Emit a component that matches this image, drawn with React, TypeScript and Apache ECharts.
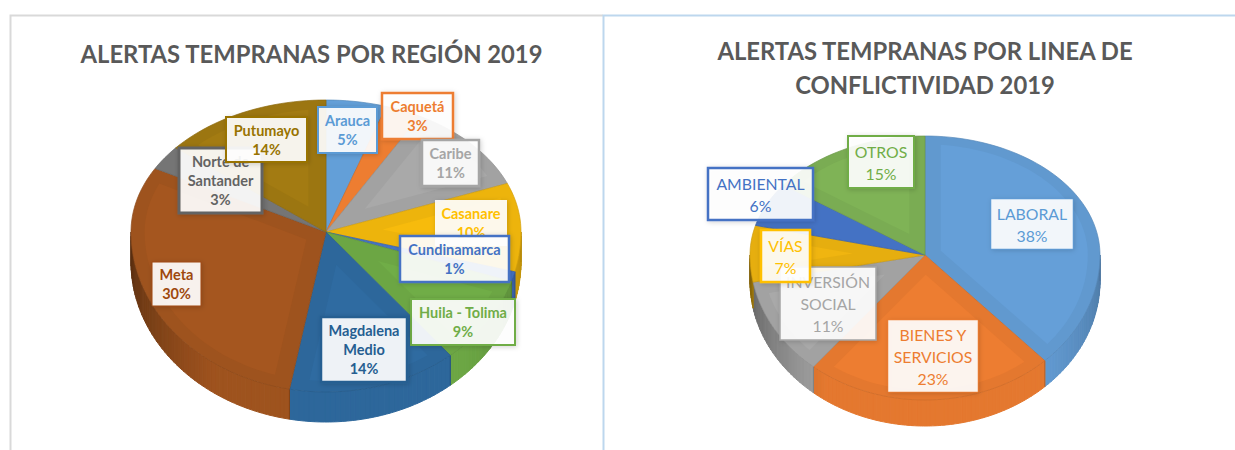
import React, { useEffect, useRef } from "react";
import * as echarts from "echarts";

const regionNames = ["Arauca", "Caquetá", "Caribe", "Casanare", "Cundinamarca", "Huila - Tolima", "Magdalena\nMedio", "Meta", "Norte de\nSantander", "Putumayo"];
const regionValues = [5, 3, 11, 10, 1, 9, 14, 30, 3, 14];
const regionColors = ["#639fd8", "#ed7d31", "#a9a9a9", "#f7bb0c", "#4472c4", "#70ad47", "#2f6ba1", "#a5561f", "#757575", "#a37b12"];
const regionTextColors = ["#5b9bd5", "#ed7d31", "#a5a5a5", "#ffc000", "#4472c4", "#70ad47", "#255e91", "#9e480e", "#636363", "#997300"];
const regionBorders = [2, 2.5, 2.5, 0, 2.5, 2, 2.5, 1, 3, 2];
const regionBoxes = [
  [318, 107, 377, 153], [382, 93, 453, 139], [422, 140, 479, 186], [435, 200, 507, 246], [400, 236, 509, 282],
  [411, 299, 515, 345], [321, 317, 407, 382], [152, 262, 201, 306], [179, 148, 262, 213], [226, 117, 307, 162],
];

const lineNames = ["LABORAL", "BIENES Y\nSERVICIOS", "INVERSIÓN\nSOCIAL", "VÍAS", "AMBIENTAL", "OTROS"];
const lineValues = [38, 23, 11, 7, 6, 15];
const lineColors = ["#659fd8", "#ed7d31", "#a9a9a9", "#f0b510", "#4472c4", "#7fb356"];
const lineTextColors = ["#5b9bd5", "#ed7d31", "#a5a5a5", "#ffc000", "#4472c4", "#70ad47"];
const lineBorders = [0.5, 0.5, 1.5, 2.5, 2.5, 2];
const lineBoxes = [
  [991, 199, 1073, 249], [888, 320, 978, 392], [780, 267, 876, 340], [761, 230, 810, 282], [708, 168, 813, 220], [848, 136, 914, 188],
];

type Pie = { cx: number; cy: number; rx: number; back: number; front: number; wall: number };
const leftPie: Pie = { cx: 326, cy: 232, rx: 195, back: 132, front: 160, wall: 30 };
const rightPie: Pie = { cx: 925, cy: 255, rx: 175, back: 119, front: 145, wall: 26 };

function project(p: Pie, deg: number, dy = 0, r = 1): number[] {
  const a = (deg * Math.PI) / 180;
  const u = Math.sin(a);
  const v = -Math.cos(a);
  return [p.cx + p.rx * u * r, p.cy + (v < 0 ? p.back : p.front) * v * r + dy];
}

function arc(p: Pie, a0: number, a1: number, dy = 0, r = 1): number[][] {
  const pts: number[][] = [];
  const n = Math.max(2, Math.ceil(Math.abs(a1 - a0) / 2));
  for (let i = 0; i <= n; i++) pts.push(project(p, a0 + ((a1 - a0) * i) / n, dy, r));
  return pts;
}

function angles(values: number[]): number[][] {
  const total = values.reduce((s, v) => s + v, 0);
  let acc = 0;
  return values.map((v) => {
    const a0 = (acc / total) * 360;
    acc += v;
    return [a0, (acc / total) * 360];
  });
}

function darken(hex: string, f: number): string {
  const n = parseInt(hex.slice(1), 16);
  const c = [(n >> 16) & 255, (n >> 8) & 255, n & 255].map((x) => Math.round(x * f));
  return `rgb(${c[0]},${c[1]},${c[2]})`;
}

function wallShade(deg: number): number {
  if (deg > 215) return 0.96 - ((deg - 215) / 55) * 0.42;
  if (deg < 135) return 0.96 - ((135 - deg) / 45) * 0.2;
  return 0.96;
}

function pieSeries(p: Pie, names: string[], values: number[], colors: string[], textColors: string[], borders: number[], boxes: number[][], fontWeight: string, fontSize: number, lineHeight: number) {
  const spans = angles(values);
  const data = names.map((name, i) => ({ name, value: values[i] }));
  const walls = {
    type: "custom", coordinateSystem: "none", silent: true, z: 2, data,
    renderItem: (params: any) => {
      const i = params.dataIndex;
      const a0 = Math.max(spans[i][0], 90);
      const a1 = Math.min(spans[i][1], 270);
      if (a1 <= a0) return { type: "group", children: [] };
      const children: any[] = [];
      const n = Math.max(1, Math.ceil((a1 - a0) / 1.5));
      for (let k = 0; k < n; k++) {
        const b0 = a0 + ((a1 - a0) * k) / n;
        const b1 = a0 + ((a1 - a0) * (k + 1)) / n;
        const fill = darken(colors[i], wallShade((b0 + b1) / 2));
        children.push({
          type: "polygon",
          shape: { points: arc(p, b0, b1).concat(arc(p, b0, b1, p.wall).reverse()) },
          style: { fill, stroke: fill, lineWidth: 1 },
        });
      }
      const side = [project(p, a0), project(p, a0, p.wall)];
      children.push({ type: "polyline", shape: { points: side }, style: { stroke: darken(colors[i], 0.7), lineWidth: 0.7, fill: "none" } });
      return { type: "group", children };
    },
  };
  const tops = {
    type: "custom", coordinateSystem: "none", silent: true, z: 3, data,
    renderItem: (params: any) => {
      const i = params.dataIndex;
      const [a0, a1] = spans[i];
      const span = a1 - a0;
      const children: any[] = [
        {
          type: "polygon",
          shape: { points: [[p.cx, p.cy]].concat(arc(p, a0, a1)) },
          style: { fill: darken(colors[i], span >= 25 ? 0.96 : 1), stroke: darken(colors[i], 0.86), lineWidth: 0.7 },
        },
      ];
      if (span >= 25) {
        const inset = 0.09;
        const apexR = inset / Math.sin((span * Math.PI) / 360);
        const delta = (Math.asin(inset / 0.93) * 180) / Math.PI;
        const mid = (a0 + a1) / 2;
        children.push({
          type: "polygon",
          shape: { points: [project(p, mid, 0, apexR)].concat(arc(p, a0 + delta, a1 - delta, 0, 0.93)) },
          style: { fill: colors[i] },
        });
      }
      return { type: "group", children };
    },
  };
  const labels = {
    type: "custom", coordinateSystem: "none", silent: true, z: 4, data,
    renderItem: (params: any) => {
      const i = params.dataIndex;
      const [x0, y0, x1, y1] = boxes[i];
      return {
        type: "group",
        children: [
          {
            type: "rect",
            shape: { x: x0, y: y0, width: x1 - x0, height: y1 - y0 },
            style: {
              fill: "rgba(255,255,255,0.91)",
              stroke: borders[i] > 0 ? textColors[i] : "transparent",
              lineWidth: borders[i],
              shadowBlur: 5,
              shadowColor: "rgba(0,0,0,0.18)",
              shadowOffsetX: 1,
              shadowOffsetY: 1,
            },
          },
          {
            type: "text",
            x: (x0 + x1) / 2,
            y: (y0 + y1) / 2,
            style: {
              text: `${names[i]}\n${values[i]}%`,
              fill: textColors[i],
              font: `${fontWeight} ${fontSize}px Lato`,
              lineHeight,
              align: "center",
              verticalAlign: "middle",
            },
          },
        ],
      };
    },
  };
  return [walls, tops, labels];
}

export default function App() {
  const ref = useRef<HTMLDivElement>(null);
  useEffect(() => {
    document.body.style.margin = "0";
    const chart = echarts.init(ref.current!, undefined, { renderer: "svg" });
    chart.setOption({
      animation: false,
      backgroundColor: "#ffffff",
      title: [
        { text: "ALERTAS TEMPRANAS POR REGIÓN 2019", left: 306.5, top: 37, textAlign: "center", textStyle: { fontFamily: "Lato", fontSize: 23.8, fontWeight: "bold", color: "#595959" } },
        { text: "ALERTAS TEMPRANAS POR LINEA DE\nCONFLICTIVIDAD 2019", left: 920, top: 29, textAlign: "center", textStyle: { fontFamily: "Lato", fontSize: 23.8, fontWeight: "bold", color: "#595959", lineHeight: 34 } },
      ],
      graphic: [
        { type: "polyline", silent: true, shape: { points: [[10.5, 450], [10.5, 15.5], [603, 15.5]] }, style: { stroke: "#d9d9d9", lineWidth: 2, fill: "none" } },
        { type: "polyline", silent: true, shape: { points: [[603.5, 450], [603.5, 15.5], [1235, 15.5]] }, style: { stroke: "#bdd7ee", lineWidth: 2, fill: "none" } },
      ],
      series: [
        ...pieSeries(leftPie, regionNames, regionValues, regionColors, regionTextColors, regionBorders, regionBoxes, "bold", 14.5, 19),
        ...pieSeries(rightPie, lineNames, lineValues, lineColors, lineTextColors, lineBorders, lineBoxes, "normal", 15.8, 22),
      ],
    });
    return () => chart.dispose();
  }, []);
  return <div ref={ref} style={{ position: "absolute", left: 0, top: 0, width: 1235, height: 450 }} />;
}
